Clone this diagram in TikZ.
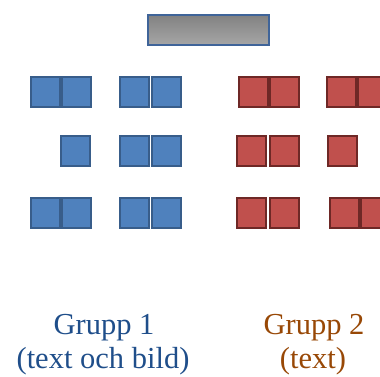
\documentclass[tikz,border=0pt]{standalone}
\usepackage{fontspec}
\setmainfont{Liberation Serif}
\definecolor{bfill}{HTML}{4F81BD}
\definecolor{bline}{HTML}{385D8A}
\definecolor{rfill}{HTML}{C0504D}
\definecolor{rline}{HTML}{6E2826}
\definecolor{btext}{HTML}{1F4E8A}
\definecolor{rtext}{HTML}{984806}
\definecolor{barline}{HTML}{3F6499}
\definecolor{bartop}{HTML}{828282}
\definecolor{barbot}{HTML}{A6A6A6}
\tikzset{
  sqbase/.style={draw, line width=2pt, minimum width=29pt, minimum height=30pt, inner sep=0pt, outer sep=0pt},
  bsq/.style={sqbase, fill=bfill, draw=bline},
  rsq/.style={sqbase, fill=rfill, draw=rline},
  lbl/.style={anchor=base, font=\fontsize{30.5}{34}\selectfont, inner sep=0pt}
}
\begin{document}
\begin{tikzpicture}[x=1pt,y=-1pt]
\useasboundingbox (0,0) rectangle (380,376);
\clip (0,0) rectangle (380,376);
% top bar
\node[draw=barline, line width=2.5pt, top color=bartop, bottom color=barbot, minimum width=121pt, minimum height=30pt, inner sep=0pt] (bar) at (208.5,30) {};
% blue group
\node[bsq] (b1a) at (45.5,92) {};
\node[bsq] (b1b) at (76,92) {};
\node[bsq] (b1c) at (134,92) {};
\node[bsq] (b1d) at (166.5,92) {};
\node[bsq] (b2b) at (75,151) {};
\node[bsq] (b2c) at (134,151) {};
\node[bsq] (b2d) at (166.5,151) {};
\node[bsq] (b3a) at (45.5,212.5) {};
\node[bsq] (b3b) at (76,212.5) {};
\node[bsq] (b3c) at (134,212.5) {};
\node[bsq] (b3d) at (166.5,212.5) {};
% red group
\node[rsq] (r1a) at (253.5,92) {};
\node[rsq] (r1b) at (284.5,92) {};
\node[rsq] (r1c) at (341.5,92) {};
\node[rsq] (r1d) at (372.5,92) {};
\node[rsq] (r2a) at (251.5,151) {};
\node[rsq] (r2b) at (284,151) {};
\node[rsq] (r2c) at (342,151) {};
\node[rsq] (r3a) at (251.5,212.5) {};
\node[rsq] (r3b) at (284,212.5) {};
\node[rsq] (r3c) at (344.5,212.5) {};
\node[rsq] (r3d) at (375.5,212.5) {};
% labels
\node[lbl, text=btext] (g1) at (104,334) {Grupp 1};
\node[lbl, text=btext] (g1s) at (103,368) {(text och bild)};
\node[lbl, text=rtext] (g2) at (314,334) {Grupp 2};
\node[lbl, text=rtext] (g2s) at (313,368) {(text)};
\end{tikzpicture}
\end{document}
